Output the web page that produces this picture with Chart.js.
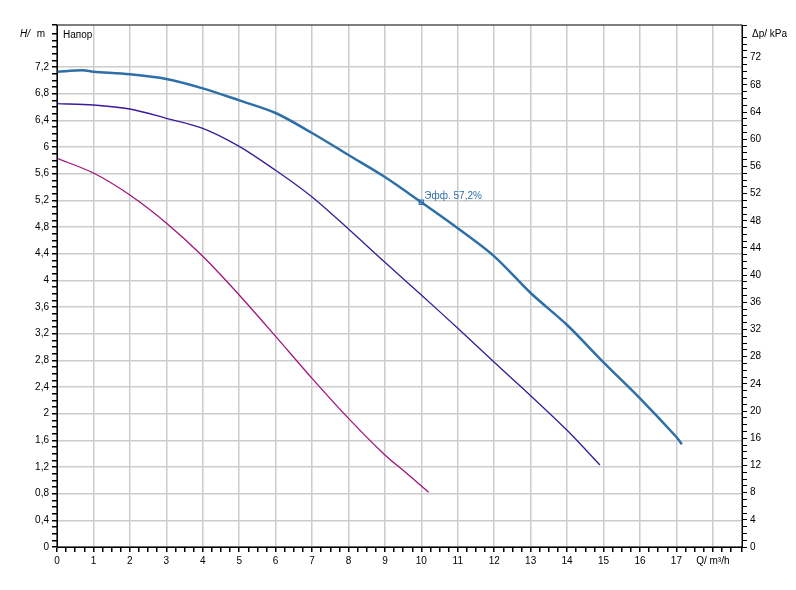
<!DOCTYPE html><html><head><script src="https://cdn.jsdelivr.net/npm/chart.js"></script>
<style>body{margin:0;background:#fff}#w{width:796px;height:590px}</style></head><body><div id="w"><canvas id="c"></canvas></div>
<script>
const qTop=[0,0.7,1,2,3,4,5,6,7,8,9,10,11,12,13,14,15,16,17,17.15];
const hTop=[7.13,7.15,7.13,7.09,7.02,6.88,6.7,6.51,6.21,5.88,5.55,5.17,4.78,4.36,3.81,3.33,2.77,2.23,1.65,1.54];
const qMid=[0,1,2,3,4,5,6,7,8,9,10,11,12,13,14,14.9];
const hMid=[6.65,6.63,6.57,6.43,6.28,6.01,5.65,5.25,4.77,4.27,3.78,3.28,2.77,2.27,1.75,1.23];
const qLow=[0,1,2,3,4,5,6,7,8,9,9.5,10.2];
const hLow=[5.83,5.61,5.28,4.86,4.36,3.78,3.16,2.53,1.93,1.38,1.15,0.82];
const effPoint={q:10,h:5.17,label:'Эфф. 57,2%'};
const HMAX=7.83, KPA=9.81;
const pts=(a,b)=>a.map((x,i)=>({x,y:b[i]}));
const fmt=v=>String(+v.toFixed(1)).replace('.',',');
const near=(v,s)=>Math.abs(v/s-Math.round(v/s))<1e-6;
const txt={id:'t',afterDraw(c){const g=c.ctx,a=c.chartArea;g.save();g.fillStyle='#000';g.font='10px "Liberation Sans",Arial';
g.textBaseline='middle';g.textAlign='right';g.fillText('m',a.left-12,34);g.font='italic 10px "Liberation Sans",Arial';g.fillText('H/',a.left-27,34);
g.textAlign='left';g.font='10px "Liberation Sans",Arial';g.fillText('Напор',a.left+6,35);
g.fillText('Δp/ kPa',a.right+10,34);
const x=c.scales.x.getPixelForValue(effPoint.q),y=c.scales.y.getPixelForValue(effPoint.h);
g.fillStyle='#2f6fa8';g.fillText(effPoint.label,x+3,y-6);
g.strokeStyle='#000';g.lineWidth=1;g.strokeRect(a.left,a.top,a.right-a.left,a.bottom-a.top);g.restore();}};
new Chart(document.getElementById('c'),{type:'scatter',data:{datasets:[
{data:pts(qTop,hTop),showLine:true,borderColor:'#2f6fa8',borderWidth:2.5,pointRadius:0,tension:0.3},
{data:pts(qMid,hMid),showLine:true,borderColor:'#3a1a9a',borderWidth:1.3,pointRadius:0,tension:0.3},
{data:pts(qLow,hLow),showLine:true,borderColor:'#a0157a',borderWidth:1.3,pointRadius:0,tension:0.3},
{data:[{x:effPoint.q,y:effPoint.h}],pointStyle:'rect',pointRadius:3,backgroundColor:'#fff',borderColor:'#2f6fa8',borderWidth:1.2}
]},options:{animation:false,responsive:true,maintainAspectRatio:false,layout:{padding:{top:25,left:0,right:0,bottom:0}},
plugins:{legend:{display:false},tooltip:{enabled:false}},
scales:{x:{type:'linear',min:0,max:18.8,afterFit:s=>{s.height=43},border:{color:'#000'},
ticks:{stepSize:0.25,autoSkip:false,maxRotation:0,color:'#000',font:{size:10,family:'"Liberation Sans",Arial'},callback:v=>near(v,1)?(v===18?'Q/ m³/h':(v<=17?String(v):'')):''},
grid:{color:c=>near(c.tick.value,1)?'#cccccc':'rgba(0,0,0,0)',lineWidth:1.5,tickColor:'#000',tickLength:5}},
y:{min:0,max:HMAX,afterFit:s=>{s.width=57},border:{color:'#000'},
ticks:{stepSize:0.1,autoSkip:false,color:'#000',font:{size:10,family:'"Liberation Sans",Arial'},callback:v=>near(v,0.4)&&v<7.3?fmt(v):''},
grid:{color:c=>near(c.tick.value,0.4)&&c.tick.value<7.3?'#cccccc':'rgba(0,0,0,0)',lineWidth:1.5,tickColor:'#000',tickLength:5}},
y2:{position:'right',min:0,max:HMAX*KPA,afterFit:s=>{s.width=54},border:{color:'#000'},
ticks:{stepSize:1,autoSkip:false,color:'#000',font:{size:10,family:'"Liberation Sans",Arial'},callback:v=>near(v,4)&&v<=72?String(v):''},
grid:{drawOnChartArea:false,color:'#000',tickLength:5}}}},plugins:[txt]});
</script></body></html>
